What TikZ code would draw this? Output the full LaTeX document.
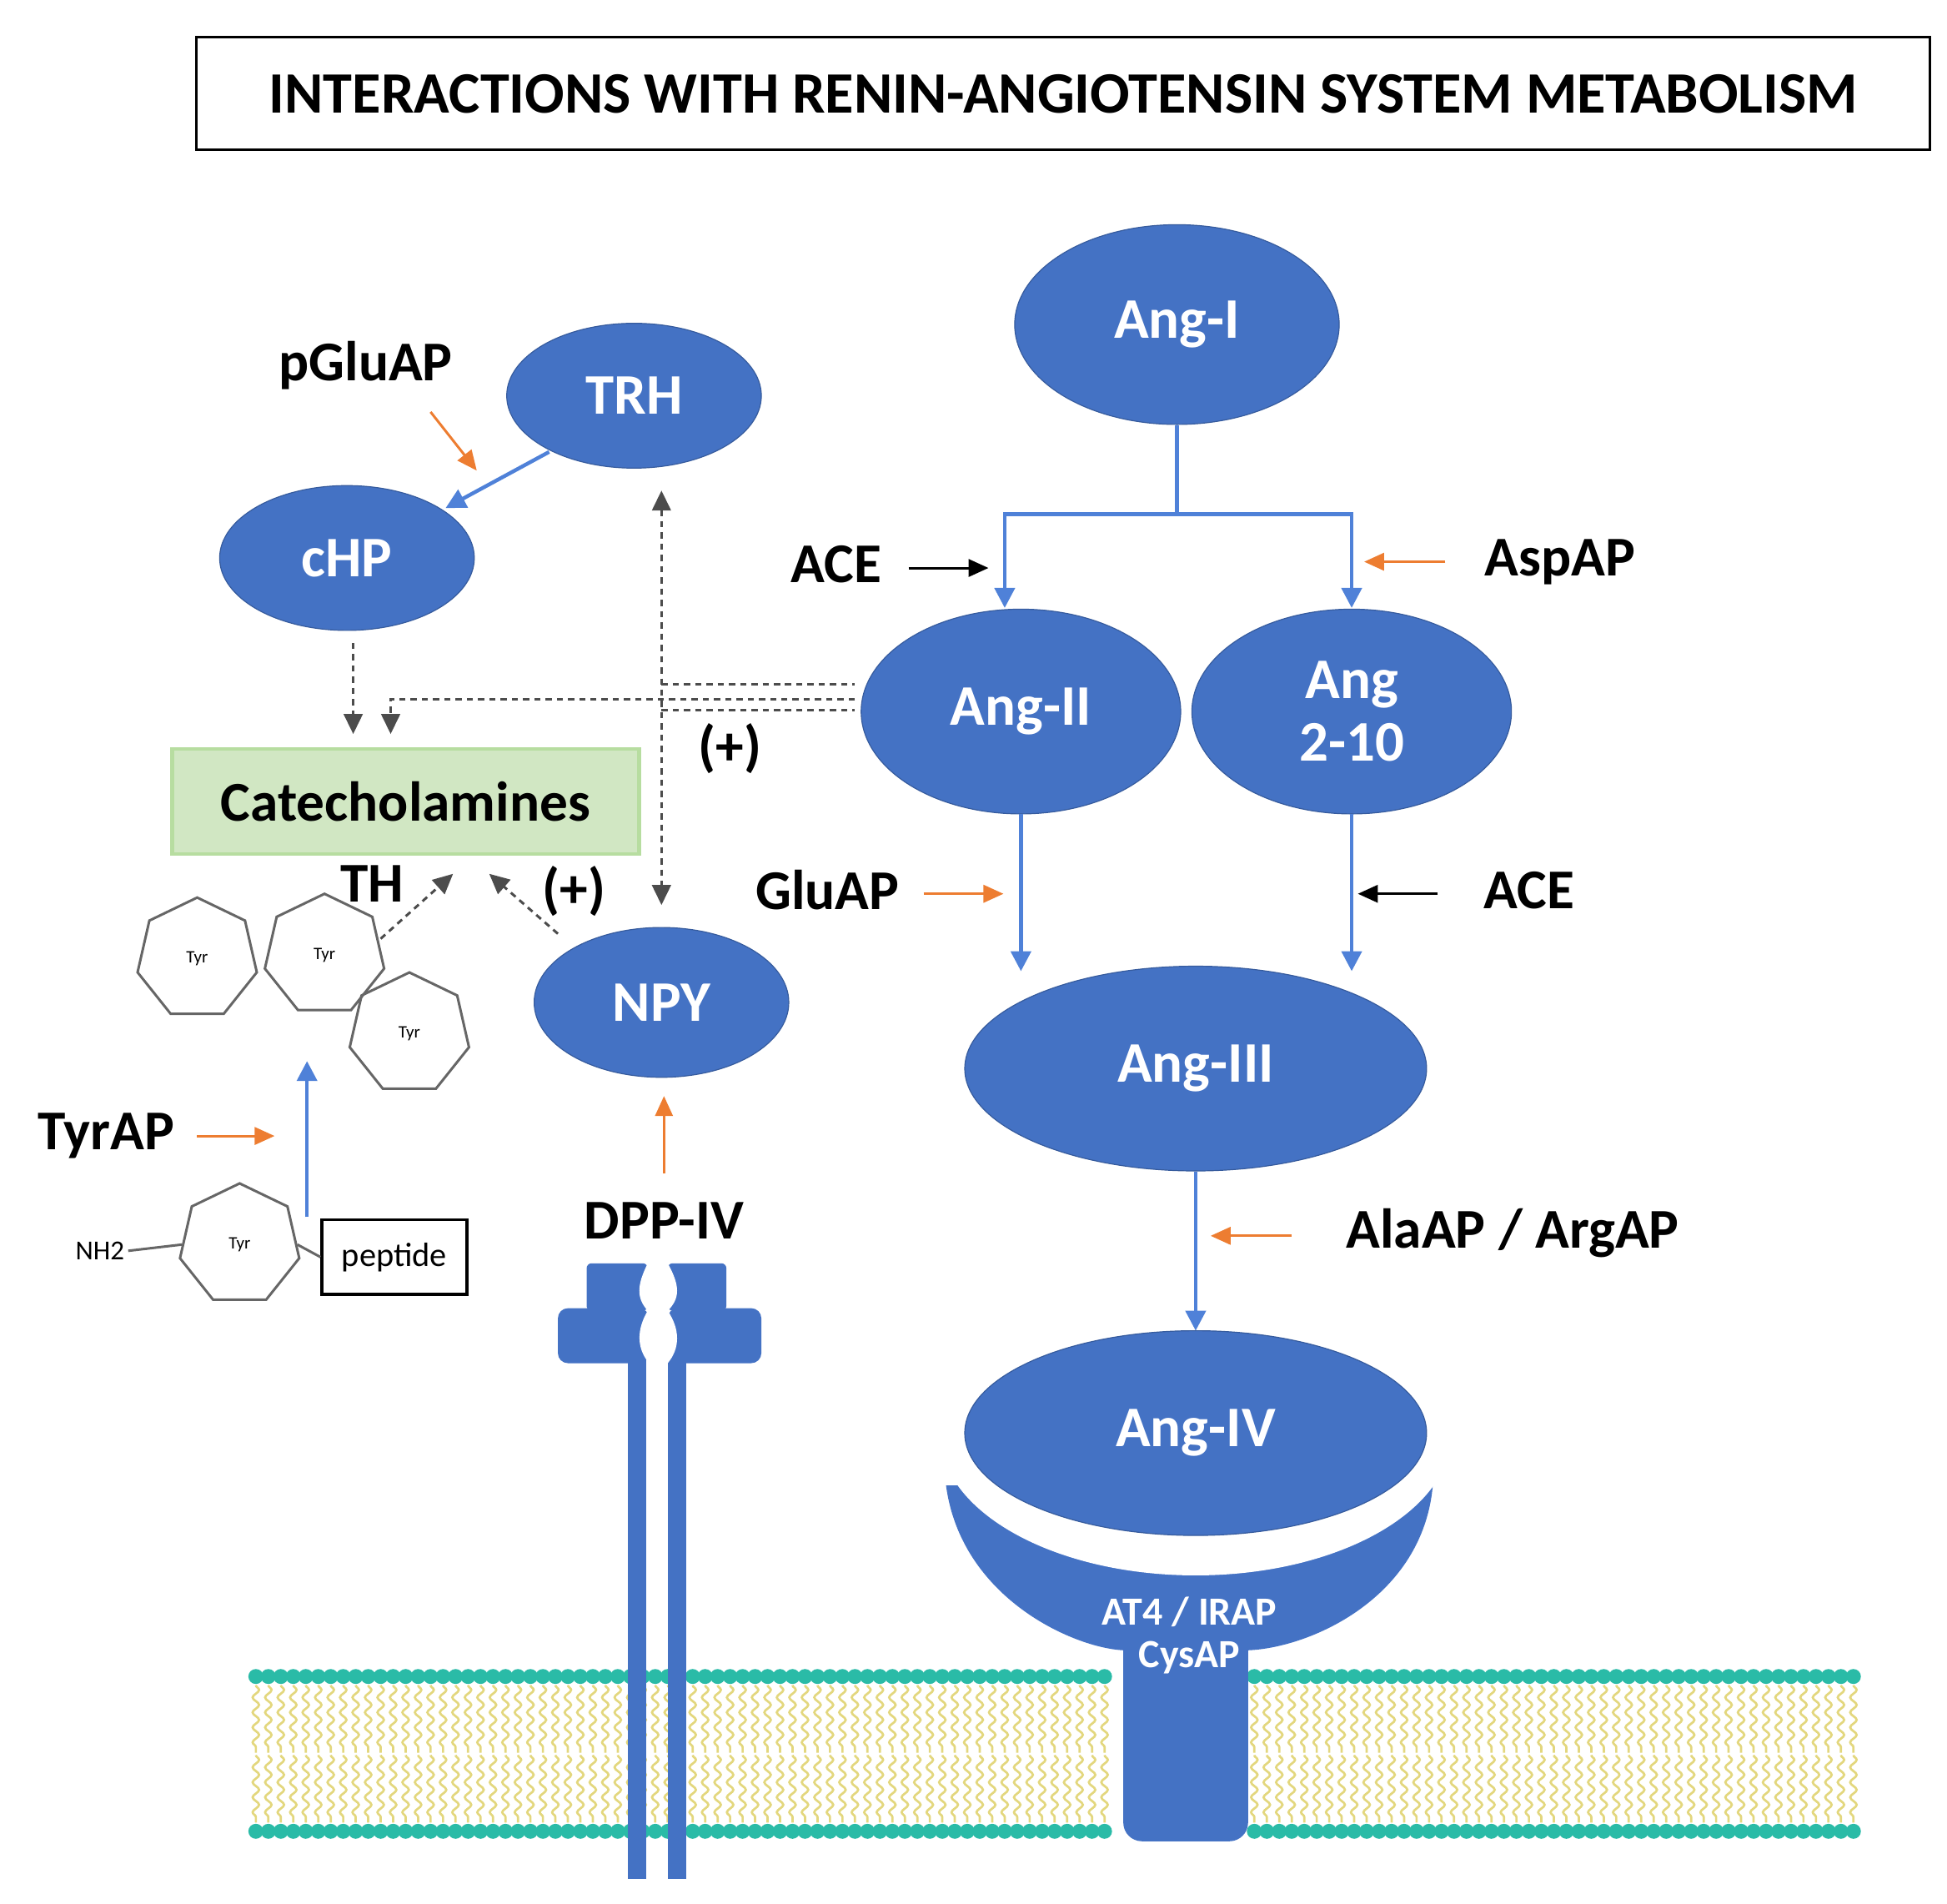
\documentclass[tikz,border=0pt]{standalone}
\usepackage{fontspec}
\setmainfont{Carlito}
\usetikzlibrary{shapes.geometric,arrows.meta,decorations.pathmorphing}
\definecolor{nb}{HTML}{4472C4}
\definecolor{ab}{HTML}{4F81D8}
\definecolor{og}{HTML}{ED7D31}
\definecolor{teal}{HTML}{2ABBA7}
\definecolor{yel}{HTML}{E3D77E}
\definecolor{cg}{HTML}{D1E7C3}
\definecolor{cgb}{HTML}{B7DDA0}
\tikzset{
 bl/.style={ellipse,fill=nb,draw=nb!80!black,line width=0.8,text=white,font=\fontsize{46}{50}\selectfont\bfseries,inner sep=0,align=center},
 lab/.style={font=\fontsize{45}{50}\selectfont\bfseries,inner sep=0},
 barr/.style={draw=ab,line width=3,-{Triangle[length=16,width=16]}},
 oarr/.style={draw=og,line width=2,-{Triangle[length=16,width=14]}},
 karr/.style={draw=black,line width=2,-{Triangle[length=16,width=14]}},
 dot/.style={draw=black!70,line width=2,dash pattern=on 5 off 4},
 dtip/.style={-{Triangle[length=16,width=15]}},
 hep/.style={regular polygon,regular polygon sides=7,draw=black!60,line width=2,minimum size=98,inner sep=0,font=\fontsize{14}{15}\selectfont},
}
\begin{document}
\begin{tikzpicture}[x=1pt,y=-1pt]
\useasboundingbox (0,0) rectangle (1560,1525);
% title
\node[draw,line width=2,minimum width=1389,minimum height=90,font=\fontsize{47}{52}\selectfont\bfseries] (title) at (852,75) {INTERACTIONS WITH RENIN-ANGIOTENSIN SYSTEM METABOLISM};
% membrane
\foreach \x in {205,215,...,1485}{
  \ifdim\x pt<893pt \def\ok{1}\else\ifdim\x pt>1003pt \def\ok{1}\else\def\ok{0}\fi\fi
  \if1\ok
   \draw[yel,line width=1.8,decorate,decoration={snake,amplitude=2.6,segment length=12}] (\x,1350)--(\x,1404);
   \draw[yel,line width=1.8,decorate,decoration={snake,amplitude=2.6,segment length=12}] (\x,1406)--(\x,1460);
   \fill[teal] (\x,1343) circle (6);
   \fill[teal] (\x,1467) circle (6);
  \fi
}
% receptor
\fill[nb] (758,1190) .. controls (770,1280) and (860,1320) .. (900,1322) -- (900,1460) to[out=-90,in=180] (915,1475) -- (985,1475) to[out=0,in=-90] (1000,1460) -- (1000,1322) .. controls (1050,1320) and (1140,1280) .. (1148,1190) -- cycle;
\fill[white] (958,1148) ellipse (205 and 114);
\node[bl,minimum width=370,minimum height=164] (a4) at (958,1148) {Ang-IV};
\node[text=white,font=\fontsize{32}{36}\selectfont\bfseries,align=center,inner sep=0] (at4) at (953,1310) {AT4 / IRAP\\[-2pt]CysAP};
% RAS
\node[bl,minimum width=260,minimum height=160] (a1) at (943,260) {Ang-I};
\node[bl,minimum width=256,minimum height=164] (a2) at (818,570) {Ang-II};
\node[bl,minimum width=256,minimum height=164] (a210) at (1083,570) {Ang\\2-10};
\node[bl,minimum width=370,minimum height=164] (a3) at (958,856) {Ang-III};
\coordinate (br) at (943,412);
\draw[ab,line width=3] (a1.south) -- (br);
\draw[barr] (br) -| (805,487);
\draw[barr] (br) -| (1083,487);
\draw[barr] (818,652) -- (818,778);
\draw[barr] (1083,652) -- (1083,778);
\draw[barr] (a3.south) -- (958,1066);
\node[lab] (ace1) at (670,452) {ACE};
\draw[karr] (728,455) -- (792,455);
\node[lab] (asp) at (1250,450) {AspAP};
\draw[oarr] (1158,450) -- (1093,450);
\node[lab] (glu) at (663,713) {GluAP};
\draw[oarr] (740,716) -- (804,716);
\node[lab] (ace2) at (1225,713) {ACE};
\draw[karr] (1152,716) -- (1088,716);
\node[lab] (ala) at (1212,988) {AlaAP / ArgAP};
\draw[oarr] (1035,990) -- (970,990);
% left part
\node[bl,minimum width=204,minimum height=116] (trh) at (508,317) {TRH};
\node[bl,minimum width=204,minimum height=116] (chp) at (278,447) {cHP};
\node[bl,minimum width=204,minimum height=120] (npy) at (530,803) {NPY};
\draw[barr] (440,362) -- (357,407);
\node[lab] (pglu) at (293,293) {pGluAP};
\draw[oarr] (345,330) -- (382,377);
\node[fill=cg,draw=cgb,line width=3,minimum width=374,minimum height=84,font=\fontsize{45}{50}\selectfont\bfseries] (cat) at (325,642) {Catecholamines};
\draw[dot,dtip] (283,515) -- (283,588);
\draw[dot,dtip] (685,560) -- (313,560) -- (313,588);
\draw[dot] (530,548) -- (685,548);
\draw[dot] (530,569) -- (685,569);
\draw[dot,{Triangle[length=16,width=15]}-{Triangle[length=16,width=15]}] (530,393) -- (530,725);
\node[lab] (plus1) at (585,600) {(+)};
\node[lab] (th) at (298,708) {TH};
\node[lab] (plus2) at (460,714) {(+)};
\node[hep] (h1) at (158,768) {Tyr};
\node[hep] (h2) at (260,765) {Tyr};
\node[hep] (h3) at (328,828) {Tyr};
\draw[dot,dtip] (305,752) -- (363,700);
\draw[dot,dtip] (447,748) -- (392,700);
\node[hep] (h4) at (192,997) {Tyr};
\node[font=\fontsize{22}{24}\selectfont,inner sep=0] (nh2) at (80,1002) {NH2};
\draw[black!60,line width=2] (nh2.east) ++(3,0) -- (h4.west);
\node[draw,line width=2.5,minimum width=116,minimum height=60,font=\fontsize{27}{29}\selectfont,inner sep=0] (pep) at (316,1007) {peptide};
\draw[black!60,line width=2] (h4.east) -- (pep.west);
\draw[barr] (246,975) -- (246,850);
\node[lab] (tyrap) at (85,910) {TyrAP};
\draw[oarr] (158,910) -- (220,910);
\node[lab] (dpp) at (532,978) {DPP-IV};
\draw[oarr] (532,940) -- (532,878);
% DPP-IV structure
\fill[nb] (503,1080) rectangle (518,1505);
\fill[nb] (535,1080) rectangle (550,1505);
\fill[nb,rounded corners=4] (470,1012) rectangle (519,1050);
\fill[nb,rounded corners=4] (535,1012) rectangle (582,1050);
\fill[nb,rounded corners=8] (447,1048) rectangle (520,1092);
\fill[nb,rounded corners=8] (535,1048) rectangle (610,1092);
\fill[white] (519,1012) .. controls (510,1030) and (510,1040) .. (519,1050) -- (519,1050) .. controls (510,1065) and (510,1080) .. (520,1092) -- (535,1092) .. controls (545,1080) and (545,1065) .. (535,1050) .. controls (545,1040) and (545,1030) .. (535,1012) -- cycle;
\end{tikzpicture}
\end{document}
